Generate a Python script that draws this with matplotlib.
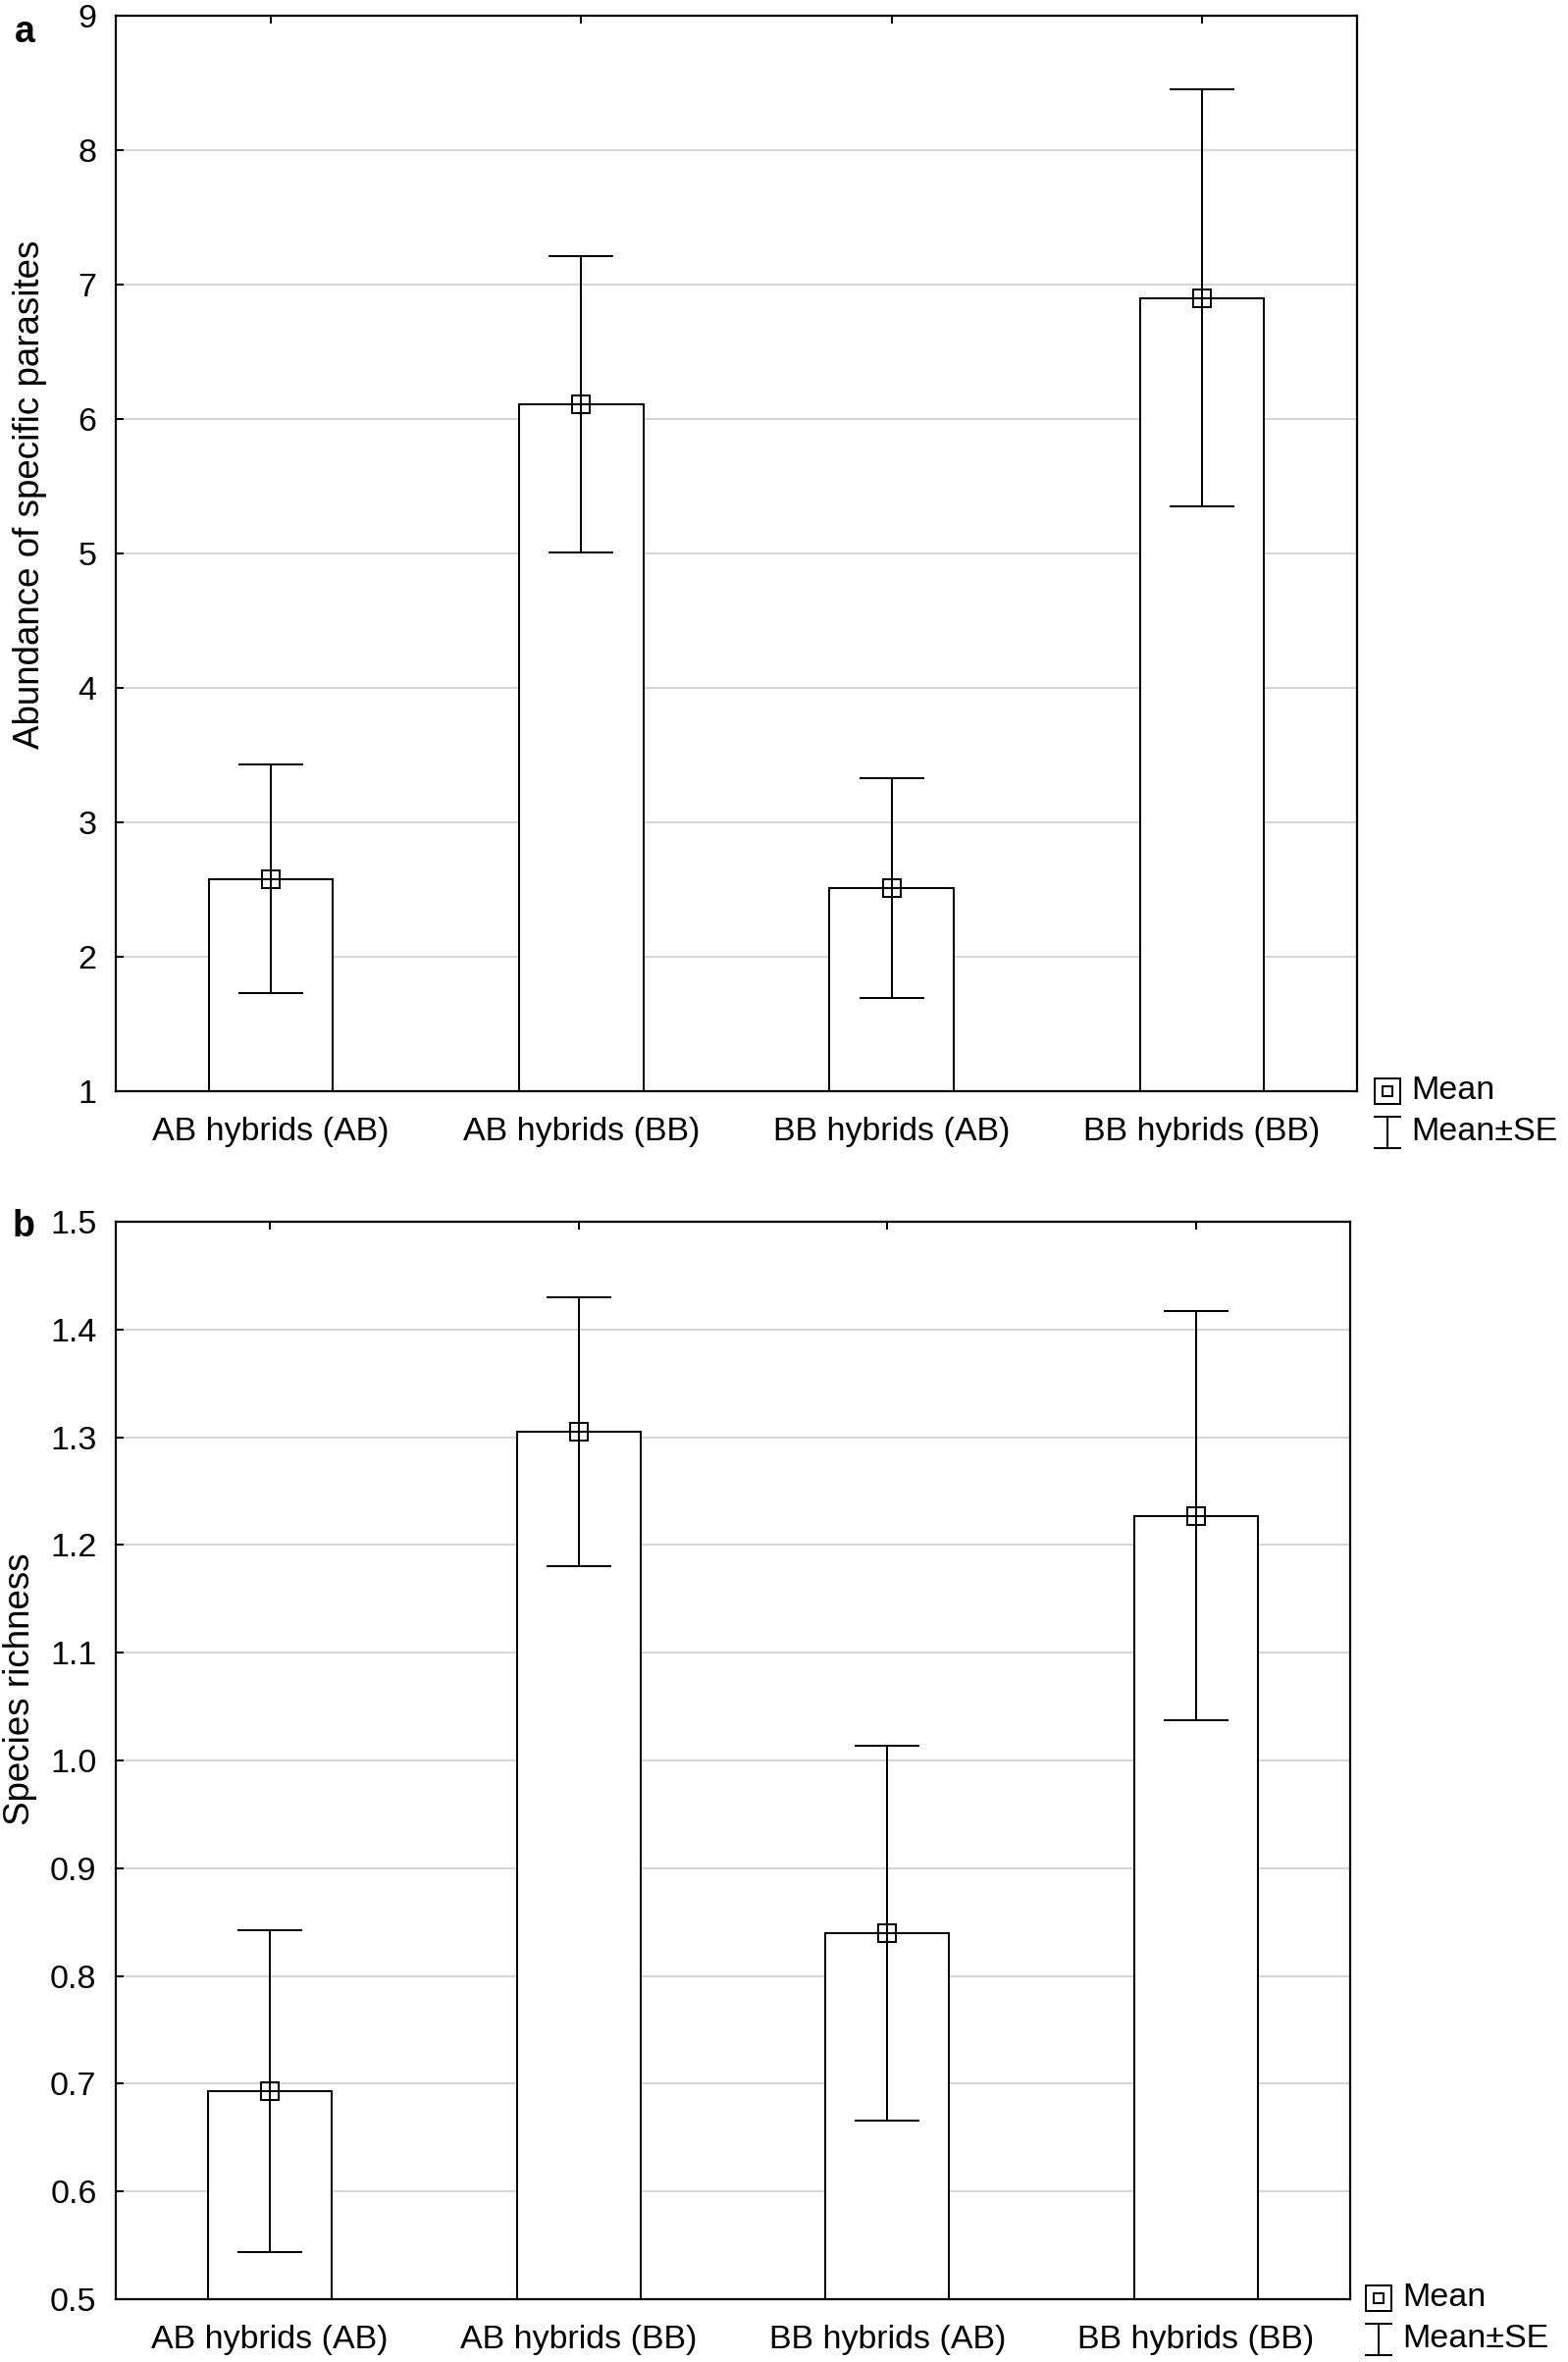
import matplotlib
matplotlib.use('Agg')
import matplotlib.pyplot as plt
from matplotlib.lines import Line2D
import numpy as np

plt.rcParams['font.family'] = ['Liberation Sans', 'DejaVu Sans']

categories = ['AB hybrids (AB)', 'AB hybrids (BB)', 'BB hybrids (AB)', 'BB hybrids (BB)']
abundance_mean = [2.58, 6.11, 2.51, 6.90]
abundance_se = [0.85, 1.10, 0.82, 1.55]
richness_mean = [0.693, 1.305, 0.840, 1.227]
richness_se = [0.149, 0.125, 0.174, 0.190]
abundance_yticks = [1, 2, 3, 4, 5, 6, 7, 8, 9]
richness_yticks = [0.5, 0.6, 0.7, 0.8, 0.9, 1.0, 1.1, 1.2, 1.3, 1.4, 1.5]
richness_ylabels = ['0.5', '0.6', '0.7', '0.8', '0.9', '1.0', '1.1', '1.2', '1.3', '1.4', '1.5']

W, H = 1598, 2407
fig = plt.figure(figsize=(W / 100, H / 100), dpi=100)

FS = 24.5
LFS = 26.5
LW = 1.45


def px(x, y):
    return x / W, 1 - y / H


def panel(rect, means, ses, yticks, ylabels, ylabel, ylabel_xy, letter, letter_xy, legend_xy):
    ax = fig.add_axes(rect)
    x = np.arange(len(categories))
    ymin, ymax = yticks[0], yticks[-1]
    ax.set_xlim(-0.5, len(categories) - 0.5)
    ax.set_ylim(ymin, ymax)
    ax.set_axisbelow(True)
    ax.yaxis.grid(True, color='#d6d6d6', lw=1.5)
    heights = [m - ymin for m in means]
    ax.bar(x, heights, bottom=ymin, width=0.4, color='white', edgecolor='black', lw=LW, zorder=2)
    ax.errorbar(x, means, yerr=ses, fmt='none', ecolor='black', elinewidth=LW,
                capsize=24, capthick=LW, zorder=3)
    ax.plot(x, means, 's', ms=12.5, mfc='none', mec='black', mew=LW, zorder=4)
    ax.set_xticks(x)
    ax.set_xticklabels(categories, fontsize=FS)
    ax.set_yticks(yticks)
    ax.set_yticklabels(ylabels, fontsize=FS)
    ax.set_ylabel(ylabel, fontsize=LFS)
    ax.yaxis.set_label_coords(*ylabel_xy)
    ax.tick_params(axis='x', direction='in', top=True, bottom=True, length=6, width=LW, pad=19)
    ax.tick_params(axis='y', direction='in', left=True, right=False, length=6, width=LW, pad=14)
    for s in ax.spines.values():
        s.set_linewidth(1.6)
    fx, fy = px(*letter_xy)
    fig.text(fx, fy, letter, fontsize=27, fontweight='bold', ha='left', va='baseline')
    # legend
    lx, ly = legend_xy
    cx, cy = px(lx, ly)
    fig.add_artist(Line2D([cx], [cy], marker='s', ms=19, mfc='none', mec='black', mew=LW,
                          transform=fig.transFigure))
    fig.add_artist(Line2D([cx], [cy], marker='s', ms=7, mfc='none', mec='black', mew=LW,
                          transform=fig.transFigure))
    tx, ty = px(lx + 24, ly)
    fig.text(tx, ty, 'Mean', fontsize=FS, ha='left', va='center')
    ey = ly + 42
    x0, y0 = px(lx, ey - 16)
    x1, y1 = px(lx, ey + 16)
    xa, _ = px(lx - 13, ey)
    xb, _ = px(lx + 13, ey)
    fig.add_artist(Line2D([x0, x1], [y0, y1], color='black', lw=LW, transform=fig.transFigure))
    fig.add_artist(Line2D([xa, xb], [y0, y0], color='black', lw=LW, transform=fig.transFigure))
    fig.add_artist(Line2D([xa, xb], [y1, y1], color='black', lw=LW, transform=fig.transFigure))
    tx, ty = px(lx + 24, ey)
    fig.text(tx, ty, 'Mean\u00b1SE', fontsize=FS, ha='left', va='center')
    return ax


panel([118 / W, 1 - 1112 / H, (1383 - 118) / W, (1112 - 16) / H],
      abundance_mean, abundance_se, abundance_yticks, [str(v) for v in abundance_yticks],
      'Abundance of specific parasites', (-0.055, 0.555), 'a', (15, 43), (1414, 1112))
panel([118 / W, 1 - 2343 / H, (1376 - 118) / W, (2343 - 1245) / H],
      richness_mean, richness_se, richness_yticks, richness_ylabels,
      'Species richness', (-0.0635, 0.566), 'b', (13, 1260), (1405, 2342))

fig.savefig('out.png', dpi=100)
